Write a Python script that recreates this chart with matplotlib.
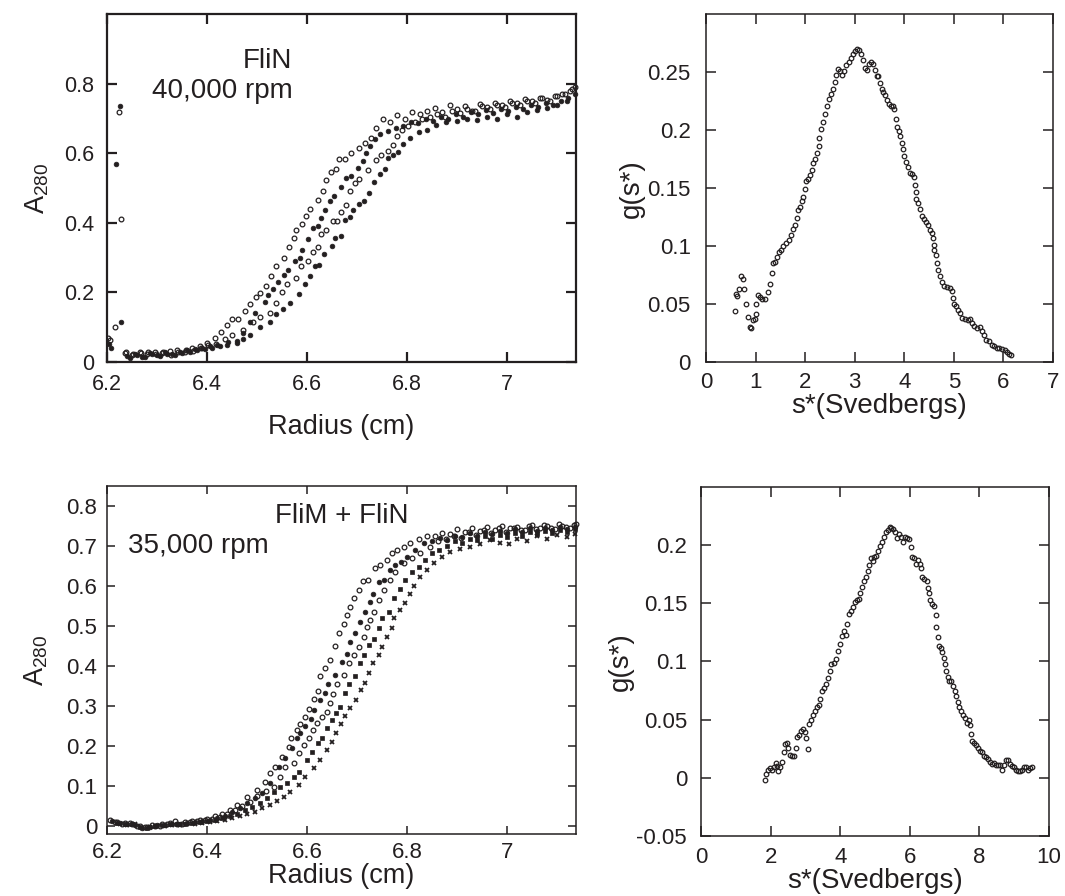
import matplotlib
matplotlib.use('Agg')
import matplotlib.pyplot as plt
from matplotlib.ticker import FixedLocator, FixedFormatter

plt.rcParams['font.family'] = ['Liberation Sans', 'DejaVu Sans']
plt.rcParams['mathtext.fontset'] = 'custom'
plt.rcParams['mathtext.rm'] = 'Liberation Sans'
plt.rcParams['mathtext.it'] = 'Liberation Sans:italic'

INK = '#231f20'

# ---------------- data: FliN, 40,000 rpm (radius cm, A280) ----------------
TL_MENISCUS = [(6.201, 0.068), (6.203, 0.053), (6.205, 0.062), (6.208, 0.040), (6.215, 0.100),
               (6.218, 0.570), (6.223, 0.720), (6.225, 0.737), (6.227, 0.410), (6.228, 0.116)]
TL_OPEN_A = [(6.235, 0.025), (6.25, 0.020), (6.265, 0.028), (6.28, 0.022), (6.295, 0.030), (6.31, 0.025),
             (6.325, 0.032), (6.34, 0.035), (6.355, 0.030), (6.37, 0.040), (6.385, 0.045), (6.40, 0.055),
             (6.415, 0.070), (6.428, 0.085), (6.439, 0.106), (6.449, 0.123), (6.462, 0.125), (6.476, 0.148),
             (6.486, 0.168), (6.497, 0.188), (6.505, 0.198), (6.518, 0.220), (6.528, 0.248), (6.538, 0.275),
             (6.554, 0.300), (6.563, 0.332), (6.573, 0.357), (6.578, 0.379), (6.589, 0.397), (6.598, 0.420),
             (6.606, 0.439), (6.621, 0.467), (6.631, 0.491), (6.638, 0.523), (6.648, 0.546), (6.657, 0.556),
             (6.664, 0.584), (6.676, 0.585), (6.688, 0.601), (6.704, 0.616), (6.716, 0.630), (6.728, 0.645),
             (6.738, 0.674), (6.751, 0.700), (6.765, 0.690), (6.780, 0.710), (6.795, 0.700), (6.810, 0.720),
             (6.825, 0.712), (6.840, 0.722), (6.855, 0.730), (6.870, 0.718), (6.885, 0.740), (6.900, 0.728),
             (6.915, 0.736), (6.930, 0.722), (6.945, 0.742), (6.960, 0.734), (6.975, 0.745), (6.990, 0.738),
             (7.005, 0.750), (7.020, 0.744), (7.035, 0.756), (7.050, 0.750), (7.065, 0.760), (7.080, 0.754),
             (7.095, 0.765), (7.110, 0.770), (7.125, 0.780), (7.135, 0.790)]
TL_FILL_A = [(6.24, 0.018), (6.255, 0.024), (6.27, 0.015), (6.285, 0.026), (6.30, 0.020), (6.315, 0.028),
             (6.33, 0.024), (6.345, 0.030), (6.36, 0.034), (6.375, 0.038), (6.39, 0.040), (6.405, 0.045),
             (6.42, 0.050), (6.442, 0.058), (6.459, 0.061), (6.472, 0.082), (6.486, 0.116), (6.496, 0.142),
             (6.516, 0.172), (6.522, 0.193), (6.532, 0.210), (6.542, 0.230), (6.554, 0.251), (6.562, 0.266),
             (6.575, 0.290), (6.585, 0.300), (6.590, 0.321), (6.602, 0.355), (6.612, 0.384), (6.621, 0.391),
             (6.628, 0.415), (6.636, 0.437), (6.645, 0.462), (6.653, 0.477), (6.668, 0.503), (6.678, 0.529),
             (6.688, 0.536), (6.701, 0.558), (6.711, 0.578), (6.718, 0.600), (6.725, 0.620), (6.735, 0.640),
             (6.745, 0.655), (6.761, 0.664), (6.777, 0.674), (6.792, 0.680), (6.807, 0.690), (6.822, 0.686),
             (6.837, 0.700), (6.852, 0.694), (6.867, 0.706), (6.882, 0.700), (6.897, 0.712), (6.912, 0.706),
             (6.927, 0.718), (6.942, 0.712), (6.957, 0.724), (6.972, 0.716), (6.987, 0.728), (7.002, 0.722),
             (7.017, 0.734), (7.032, 0.728), (7.047, 0.740), (7.062, 0.734), (7.077, 0.746), (7.092, 0.740),
             (7.107, 0.752), (7.122, 0.760), (7.135, 0.770)]
TL_OPEN_B = [(6.238, 0.030), (6.252, 0.022), (6.268, 0.026), (6.282, 0.030), (6.298, 0.024), (6.312, 0.030),
             (6.328, 0.020), (6.342, 0.028), (6.358, 0.034), (6.372, 0.032), (6.388, 0.040), (6.402, 0.048),
             (6.418, 0.052), (6.435, 0.065), (6.450, 0.077), (6.472, 0.092), (6.492, 0.116), (6.505, 0.130),
             (6.525, 0.142), (6.538, 0.169), (6.550, 0.200), (6.559, 0.225), (6.577, 0.242), (6.588, 0.275),
             (6.602, 0.290), (6.612, 0.316), (6.621, 0.332), (6.628, 0.367), (6.638, 0.379), (6.651, 0.406),
             (6.660, 0.406), (6.668, 0.430), (6.678, 0.452), (6.686, 0.491), (6.696, 0.514), (6.704, 0.527),
             (6.721, 0.551), (6.738, 0.580), (6.748, 0.594), (6.761, 0.606), (6.771, 0.625), (6.780, 0.650),
             (6.790, 0.668), (6.802, 0.680), (6.815, 0.690), (6.830, 0.700), (6.845, 0.706), (6.860, 0.712),
             (6.875, 0.705), (6.890, 0.722), (6.905, 0.716), (6.920, 0.728), (6.935, 0.722), (6.950, 0.736),
             (6.965, 0.728), (6.980, 0.740), (6.995, 0.734), (7.010, 0.746), (7.025, 0.740), (7.040, 0.752),
             (7.055, 0.746), (7.070, 0.758), (7.085, 0.752), (7.100, 0.764), (7.115, 0.770), (7.130, 0.785)]
TL_FILL_B = [(6.245, 0.012), (6.26, 0.020), (6.275, 0.014), (6.29, 0.022), (6.305, 0.016), (6.32, 0.024),
             (6.335, 0.020), (6.35, 0.026), (6.365, 0.030), (6.38, 0.034), (6.395, 0.036), (6.41, 0.040),
             (6.425, 0.045), (6.44, 0.048), (6.459, 0.055), (6.472, 0.065), (6.486, 0.077), (6.505, 0.101),
             (6.525, 0.116), (6.538, 0.137), (6.551, 0.153), (6.565, 0.169), (6.583, 0.196), (6.595, 0.225),
             (6.605, 0.246), (6.615, 0.275), (6.623, 0.280), (6.633, 0.312), (6.649, 0.335), (6.656, 0.358),
             (6.668, 0.362), (6.675, 0.409), (6.685, 0.416), (6.691, 0.438), (6.704, 0.454), (6.714, 0.464),
             (6.724, 0.486), (6.734, 0.519), (6.745, 0.541), (6.755, 0.556), (6.761, 0.587), (6.771, 0.594),
             (6.781, 0.604), (6.791, 0.628), (6.805, 0.645), (6.824, 0.662), (6.840, 0.667), (6.857, 0.682),
             (6.877, 0.691), (6.900, 0.693), (6.920, 0.700), (6.940, 0.696), (6.960, 0.706), (6.980, 0.700),
             (7.000, 0.712), (7.020, 0.706), (7.040, 0.718), (7.060, 0.724), (7.080, 0.730), (7.100, 0.740),
             (7.120, 0.750)]

# ---------------- data: g(s*) FliN ----------------
TR_G = [(0.58, 0.044), (0.61, 0.059), (0.63, 0.057), (0.67, 0.063), (0.71, 0.074), (0.75, 0.072), (0.77, 0.063),
        (0.80, 0.050), (0.84, 0.039), (0.88, 0.030), (0.91, 0.029), (0.95, 0.036), (0.98, 0.037), (1.00, 0.041),
        (1.01, 0.050), (1.04, 0.058), (1.08, 0.056), (1.13, 0.054), (1.19, 0.054), (1.25, 0.060), (1.29, 0.067),
        (1.33, 0.077), (1.36, 0.085), (1.40, 0.086), (1.44, 0.091), (1.48, 0.095), (1.52, 0.097), (1.56, 0.100),
        (1.61, 0.103), (1.67, 0.105), (1.72, 0.110), (1.76, 0.115), (1.80, 0.118), (1.83, 0.124), (1.85, 0.131),
        (1.89, 0.134), (1.93, 0.139), (1.96, 0.142), (1.99, 0.149), (2.01, 0.156), (2.05, 0.158), (2.09, 0.161),
        (2.13, 0.166), (2.16, 0.172), (2.20, 0.175), (2.24, 0.180), (2.27, 0.186), (2.29, 0.193), (2.33, 0.201),
        (2.37, 0.207), (2.41, 0.214), (2.44, 0.221), (2.48, 0.227), (2.52, 0.231), (2.56, 0.236), (2.60, 0.242),
        (2.63, 0.248), (2.67, 0.253), (2.71, 0.251), (2.75, 0.248), (2.79, 0.251), (2.83, 0.256), (2.88, 0.259),
        (2.92, 0.262), (2.96, 0.266), (3.00, 0.268), (3.04, 0.270), (3.09, 0.269), (3.13, 0.266), (3.17, 0.261),
        (3.21, 0.254), (3.25, 0.252), (3.29, 0.257), (3.33, 0.259), (3.37, 0.257), (3.41, 0.252), (3.45, 0.247),
        (3.48, 0.247), (3.51, 0.241), (3.55, 0.236), (3.57, 0.233), (3.61, 0.230), (3.65, 0.226), (3.69, 0.223),
        (3.73, 0.221), (3.77, 0.221), (3.80, 0.218), (3.83, 0.210), (3.85, 0.203), (3.89, 0.199), (3.92, 0.195),
        (3.95, 0.189), (3.97, 0.184), (4.00, 0.178), (4.04, 0.173), (4.07, 0.168), (4.11, 0.163), (4.15, 0.162),
        (4.19, 0.160), (4.21, 0.153), (4.23, 0.147), (4.24, 0.141), (4.27, 0.137), (4.31, 0.132), (4.35, 0.126),
        (4.39, 0.123), (4.43, 0.121), (4.47, 0.118), (4.51, 0.114), (4.55, 0.111), (4.57, 0.107), (4.60, 0.101),
        (4.61, 0.097), (4.64, 0.092), (4.67, 0.085), (4.69, 0.079), (4.73, 0.074), (4.77, 0.069), (4.81, 0.066),
        (4.87, 0.065), (4.92, 0.064), (4.96, 0.061), (4.99, 0.055), (5.01, 0.050), (5.05, 0.048), (5.09, 0.045),
        (5.13, 0.042), (5.17, 0.038), (5.23, 0.037), (5.28, 0.036), (5.33, 0.037), (5.37, 0.034), (5.41, 0.031),
        (5.47, 0.029), (5.52, 0.030), (5.57, 0.027), (5.61, 0.023), (5.65, 0.019), (5.71, 0.018), (5.76, 0.015),
        (5.81, 0.014), (5.87, 0.012), (5.92, 0.012), (5.97, 0.011), (6.03, 0.010), (6.08, 0.009), (6.12, 0.007),
        (6.16, 0.006)]

# ---------------- data: FliM + FliN, 35,000 rpm ----------------
BL_OPEN_A = [(6.205, 0.015), (6.22, 0.010), (6.235, 0.008), (6.25, 0.005), (6.265, 0.0), (6.28, -0.002),
             (6.295, 0.0), (6.31, 0.004), (6.325, 0.008), (6.34, 0.006), (6.355, 0.010), (6.37, 0.012),
             (6.385, 0.015), (6.40, 0.018), (6.415, 0.025), (6.43, 0.030), (6.445, 0.040), (6.46, 0.052),
             (6.479, 0.073), (6.499, 0.090), (6.516, 0.111), (6.526, 0.132), (6.536, 0.148), (6.549, 0.173),
             (6.563, 0.198), (6.568, 0.219), (6.579, 0.240), (6.586, 0.254), (6.596, 0.273), (6.603, 0.292),
             (6.613, 0.317), (6.621, 0.338), (6.626, 0.375), (6.636, 0.394), (6.645, 0.415), (6.656, 0.450),
             (6.663, 0.482), (6.673, 0.505), (6.679, 0.528), (6.686, 0.548), (6.694, 0.569), (6.703, 0.590),
             (6.711, 0.613), (6.722, 0.615), (6.736, 0.644), (6.746, 0.653), (6.759, 0.665), (6.769, 0.682),
             (6.779, 0.690), (6.793, 0.698), (6.806, 0.707), (6.823, 0.717), (6.839, 0.725), (6.855, 0.726),
             (6.870, 0.732), (6.885, 0.730), (6.900, 0.742), (6.915, 0.736), (6.930, 0.745), (6.945, 0.738),
             (6.960, 0.748), (6.975, 0.740), (6.990, 0.750), (7.005, 0.744), (7.020, 0.748), (7.035, 0.740),
             (7.050, 0.752), (7.065, 0.744), (7.080, 0.750), (7.095, 0.742), (7.110, 0.750), (7.125, 0.746),
             (7.137, 0.756)]
BL_FILL_A = [(6.21, 0.012), (6.225, 0.008), (6.24, 0.004), (6.255, 0.002), (6.27, -0.004), (6.285, -0.002),
             (6.30, 0.002), (6.315, 0.003), (6.33, 0.005), (6.345, 0.004), (6.36, 0.008), (6.375, 0.010),
             (6.39, 0.012), (6.405, 0.015), (6.42, 0.020), (6.435, 0.025), (6.45, 0.035), (6.465, 0.045),
             (6.48, 0.058), (6.495, 0.070), (6.509, 0.082), (6.526, 0.107), (6.543, 0.148), (6.556, 0.169),
             (6.569, 0.194), (6.579, 0.219), (6.586, 0.232), (6.596, 0.250), (6.607, 0.268), (6.613, 0.290),
             (6.626, 0.315), (6.636, 0.332), (6.641, 0.354), (6.656, 0.378), (6.669, 0.409), (6.679, 0.430),
             (6.686, 0.461), (6.696, 0.483), (6.706, 0.511), (6.716, 0.536), (6.726, 0.561), (6.731, 0.580),
             (6.743, 0.611), (6.753, 0.615), (6.765, 0.640), (6.776, 0.653), (6.788, 0.660), (6.799, 0.673),
             (6.816, 0.690), (6.833, 0.707), (6.850, 0.712), (6.865, 0.720), (6.880, 0.716), (6.895, 0.726),
             (6.910, 0.722), (6.925, 0.732), (6.940, 0.726), (6.955, 0.736), (6.970, 0.730), (6.985, 0.738),
             (7.000, 0.732), (7.015, 0.742), (7.030, 0.736), (7.045, 0.744), (7.060, 0.738), (7.075, 0.746),
             (7.090, 0.740), (7.105, 0.748), (7.120, 0.742), (7.135, 0.748)]
BL_OPEN_B = [(6.215, 0.010), (6.23, 0.006), (6.245, 0.008), (6.26, 0.0), (6.275, -0.003), (6.29, 0.002),
             (6.305, 0.0), (6.32, 0.006), (6.335, 0.012), (6.35, 0.006), (6.365, 0.009), (6.38, 0.012),
             (6.395, 0.014), (6.41, 0.018), (6.425, 0.022), (6.44, 0.030), (6.455, 0.040), (6.47, 0.050),
             (6.485, 0.060), (6.50, 0.075), (6.517, 0.088), (6.533, 0.098), (6.546, 0.123), (6.556, 0.148),
             (6.573, 0.157), (6.583, 0.182), (6.593, 0.202), (6.603, 0.221), (6.611, 0.240), (6.619, 0.258),
             (6.629, 0.273), (6.639, 0.286), (6.646, 0.307), (6.652, 0.330), (6.659, 0.355), (6.673, 0.378),
             (6.683, 0.408), (6.693, 0.428), (6.703, 0.448), (6.713, 0.473), (6.719, 0.498), (6.726, 0.515),
             (6.733, 0.536), (6.743, 0.565), (6.753, 0.590), (6.765, 0.615), (6.776, 0.636), (6.793, 0.657),
             (6.809, 0.669), (6.826, 0.682), (6.846, 0.698), (6.862, 0.712), (6.878, 0.718), (6.893, 0.726),
             (6.908, 0.720), (6.923, 0.735), (6.938, 0.728), (6.953, 0.740), (6.968, 0.732), (6.983, 0.744),
             (6.998, 0.736), (7.013, 0.746), (7.028, 0.740), (7.043, 0.750), (7.058, 0.742), (7.073, 0.752),
             (7.088, 0.746), (7.103, 0.754), (7.118, 0.748), (7.133, 0.752)]
BL_SQUARE = [(6.22, 0.008), (6.235, 0.004), (6.25, 0.006), (6.265, -0.002), (6.28, -0.004), (6.295, 0.0),
             (6.31, 0.002), (6.325, 0.004), (6.34, 0.006), (6.355, 0.005), (6.37, 0.008), (6.385, 0.010),
             (6.40, 0.012), (6.415, 0.015), (6.43, 0.020), (6.445, 0.025), (6.46, 0.030), (6.475, 0.040),
             (6.49, 0.048), (6.505, 0.058), (6.52, 0.070), (6.533, 0.085), (6.546, 0.098), (6.559, 0.107),
             (6.573, 0.123), (6.583, 0.136), (6.599, 0.165), (6.609, 0.186), (6.621, 0.207), (6.629, 0.219),
             (6.639, 0.244), (6.649, 0.265), (6.658, 0.282), (6.666, 0.298), (6.676, 0.333), (6.683, 0.355),
             (6.696, 0.375), (6.705, 0.407), (6.713, 0.428), (6.723, 0.453), (6.733, 0.467), (6.743, 0.494),
             (6.749, 0.519), (6.763, 0.536), (6.773, 0.571), (6.786, 0.592), (6.796, 0.615), (6.809, 0.636),
             (6.823, 0.648), (6.836, 0.665), (6.849, 0.682), (6.864, 0.690), (6.880, 0.700), (6.895, 0.712),
             (6.910, 0.708), (6.925, 0.718), (6.940, 0.714), (6.955, 0.724), (6.970, 0.718), (6.985, 0.728),
             (7.000, 0.722), (7.015, 0.732), (7.030, 0.726), (7.045, 0.736), (7.060, 0.730), (7.075, 0.738),
             (7.090, 0.732), (7.105, 0.740), (7.120, 0.735), (7.135, 0.742)]
BL_CROSS = [(6.225, 0.006), (6.24, 0.002), (6.255, 0.004), (6.27, -0.006), (6.285, -0.002), (6.30, -0.001),
            (6.315, 0.001), (6.33, 0.003), (6.345, 0.002), (6.36, 0.005), (6.375, 0.006), (6.39, 0.008),
            (6.405, 0.010), (6.42, 0.012), (6.435, 0.015), (6.45, 0.020), (6.465, 0.024), (6.48, 0.030),
            (6.495, 0.036), (6.51, 0.044), (6.525, 0.052), (6.54, 0.062), (6.553, 0.072), (6.566, 0.086),
            (6.583, 0.102), (6.596, 0.123), (6.613, 0.144), (6.626, 0.165), (6.639, 0.190), (6.649, 0.211),
            (6.658, 0.232), (6.668, 0.255), (6.676, 0.275), (6.686, 0.294), (6.698, 0.315), (6.707, 0.340),
            (6.716, 0.358), (6.723, 0.382), (6.731, 0.407), (6.743, 0.428), (6.749, 0.448), (6.759, 0.473),
            (6.769, 0.494), (6.774, 0.519), (6.786, 0.540), (6.796, 0.558), (6.806, 0.580), (6.813, 0.600),
            (6.825, 0.623), (6.840, 0.640), (6.853, 0.657), (6.870, 0.672), (6.886, 0.686), (6.906, 0.692),
            (6.926, 0.698), (6.946, 0.704), (6.966, 0.715), (6.986, 0.708), (7.003, 0.705), (7.020, 0.718),
            (7.040, 0.712), (7.060, 0.724), (7.080, 0.718), (7.100, 0.728), (7.120, 0.722), (7.135, 0.730)]

# ---------------- data: g(s*) FliM + FliN ----------------
BR_G = [(1.84, -0.002), (1.88, 0.003), (1.92, 0.007), (1.97, 0.008), (2.03, 0.007), (2.09, 0.009), (2.15, 0.013),
        (2.18, 0.010), (2.22, 0.006), (2.28, 0.009), (2.34, 0.014), (2.38, 0.022), (2.41, 0.029), (2.47, 0.030),
        (2.51, 0.026), (2.55, 0.020), (2.61, 0.019), (2.67, 0.019), (2.72, 0.026), (2.76, 0.035), (2.82, 0.037),
        (2.87, 0.040), (2.93, 0.042), (2.99, 0.039), (3.03, 0.034), (3.07, 0.025), (3.10, 0.046), (3.16, 0.050),
        (3.22, 0.054), (3.28, 0.057), (3.33, 0.061), (3.39, 0.063), (3.43, 0.068), (3.49, 0.075), (3.54, 0.077),
        (3.60, 0.081), (3.66, 0.086), (3.70, 0.092), (3.75, 0.098), (3.81, 0.099), (3.87, 0.102), (3.93, 0.109),
        (3.98, 0.115), (4.04, 0.122), (4.10, 0.126), (4.16, 0.123), (4.20, 0.132), (4.25, 0.141), (4.31, 0.143),
        (4.37, 0.147), (4.43, 0.151), (4.48, 0.153), (4.54, 0.154), (4.58, 0.159), (4.62, 0.164), (4.68, 0.169),
        (4.73, 0.173), (4.79, 0.178), (4.83, 0.183), (4.89, 0.189), (4.94, 0.186), (4.98, 0.190), (5.04, 0.191),
        (5.10, 0.195), (5.13, 0.199), (5.19, 0.203), (5.25, 0.207), (5.31, 0.211), (5.36, 0.213), (5.42, 0.216),
        (5.46, 0.215), (5.52, 0.214), (5.57, 0.211), (5.63, 0.206), (5.69, 0.210), (5.75, 0.207), (5.80, 0.203),
        (5.86, 0.207), (5.92, 0.206), (5.98, 0.205), (6.02, 0.198), (6.05, 0.190), (6.11, 0.189), (6.17, 0.184),
        (6.23, 0.187), (6.28, 0.184), (6.32, 0.180), (6.36, 0.173), (6.42, 0.171), (6.48, 0.169), (6.51, 0.163),
        (6.55, 0.159), (6.59, 0.153), (6.65, 0.149), (6.70, 0.148), (6.74, 0.140), (6.76, 0.130), (6.80, 0.121),
        (6.84, 0.113), (6.90, 0.112), (6.93, 0.108), (6.97, 0.103), (7.01, 0.098), (7.05, 0.092), (7.09, 0.087),
        (7.13, 0.083), (7.18, 0.083), (7.24, 0.079), (7.30, 0.075), (7.34, 0.070), (7.38, 0.065), (7.41, 0.061),
        (7.47, 0.057), (7.53, 0.054), (7.59, 0.051), (7.64, 0.047), (7.70, 0.050), (7.72, 0.045), (7.76, 0.038),
        (7.80, 0.032), (7.85, 0.030), (7.91, 0.028), (7.97, 0.026), (8.03, 0.023), (8.08, 0.022), (8.14, 0.019),
        (8.20, 0.018), (8.25, 0.016), (8.31, 0.014), (8.37, 0.012), (8.43, 0.013), (8.49, 0.011), (8.54, 0.011),
        (8.60, 0.011), (8.64, 0.007), (8.70, 0.011), (8.75, 0.015), (8.81, 0.015), (8.87, 0.012), (8.93, 0.010),
        (8.98, 0.009), (9.04, 0.007), (9.10, 0.006), (9.16, 0.006), (9.21, 0.007), (9.27, 0.009), (9.33, 0.009),
        (9.39, 0.007), (9.44, 0.008), (9.50, 0.009)]

# tick labels
RAD_TICKS = [6.2, 6.4, 6.6, 6.8, 7.0]
RAD_LABELS = ['6.2', '6.4', '6.6', '6.8', '7']
TL_YTICKS = [0, 0.2, 0.4, 0.6, 0.8]
TL_YLABELS = ['0', '0.2', '0.4', '0.6', '0.8']
TR_XTICKS = [0, 1, 2, 3, 4, 5, 6, 7]
TR_XLABELS = ['0', '1', '2', '3', '4', '5', '6', '7']
TR_YTICKS = [0, 0.05, 0.1, 0.15, 0.2, 0.25]
TR_YLABELS = ['0', '0.05', '0.1', '0.15', '0.2', '0.25']
BL_YTICKS = [0, 0.1, 0.2, 0.3, 0.4, 0.5, 0.6, 0.7, 0.8]
BL_YLABELS = ['0', '0.1', '0.2', '0.3', '0.4', '0.5', '0.6', '0.7', '0.8']
BR_XTICKS = [0, 2, 4, 6, 8, 10]
BR_XLABELS = ['0', '2', '4', '6', '8', '10']
BR_YTICKS = [-0.05, 0, 0.05, 0.1, 0.15, 0.2]
BR_YLABELS = ['-0.05', '0', '0.05', '0.1', '0.15', '0.2']


def xy(pairs):
    return [p[0] for p in pairs], [p[1] for p in pairs]


def style(ax, lw, tlen, lsize, padx, pady, xt, xl, yt, yl):
    for s in ax.spines.values():
        s.set_linewidth(lw)
        s.set_color(INK)
    ax.xaxis.set_major_locator(FixedLocator(xt))
    ax.xaxis.set_major_formatter(FixedFormatter(xl))
    ax.yaxis.set_major_locator(FixedLocator(yt))
    ax.yaxis.set_major_formatter(FixedFormatter(yl))
    ax.tick_params(direction='in', top=True, right=True, length=tlen, width=lw,
                   color=INK, labelcolor=INK, labelsize=lsize)
    ax.tick_params(axis='x', pad=padx)
    ax.tick_params(axis='y', pad=pady)


def open_pts(ax, pairs, ms=3.4):
    x, y = xy(pairs)
    ax.plot(x, y, linestyle='none', marker='o', mfc='none', mec=INK, ms=ms, mew=0.9, clip_on=False)


def fill_pts(ax, pairs, marker='o', ms=3.4):
    x, y = xy(pairs)
    ax.plot(x, y, linestyle='none', marker=marker, mfc=INK, mec=INK, ms=ms, mew=0.5, clip_on=False)


fig = plt.figure(figsize=(10.65, 8.96), dpi=100)

# ---- top-left ----
ax1 = fig.add_axes([0.1005, 0.596, 0.4404, 0.388])
open_pts(ax1, TL_OPEN_A)
fill_pts(ax1, TL_FILL_A)
open_pts(ax1, TL_OPEN_B)
fill_pts(ax1, TL_FILL_B)
mx, my = xy(TL_MENISCUS)
ax1.plot(mx[::2], my[::2], linestyle='none', marker='o', mfc='none', mec=INK, ms=3.4, mew=0.9)
ax1.plot(mx[1::2], my[1::2], linestyle='none', marker='o', mfc=INK, mec=INK, ms=3.4, mew=0.5)
ax1.set_xlim(6.2, 7.138)
ax1.set_ylim(0, 1.0)
style(ax1, 1.6, 7, 15.5, 9, 9, RAD_TICKS, RAD_LABELS, TL_YTICKS, TL_YLABELS)
ax1.set_xlabel('Radius (cm)', fontsize=19.5, color=INK, labelpad=13)
ax1.set_ylabel(r'$\mathregular{A_{280}}$', fontsize=19.5, color=INK, labelpad=10)
ax1.text(6.52, 0.845, 'FliN', fontsize=20, color=INK, ha='center', va='baseline')
ax1.text(6.29, 0.759, '40,000 rpm', fontsize=20, color=INK, ha='left', va='baseline')

# ---- top-right ----
ax2 = fig.add_axes([0.6629, 0.596, 0.3258, 0.388])
open_pts(ax2, TR_G, ms=3.3)
ax2.set_xlim(0, 7)
ax2.set_ylim(0, 0.3)
style(ax2, 1.1, 7, 16, 7, 11, TR_XTICKS, TR_XLABELS, TR_YTICKS, TR_YLABELS)
ax2.set_xlabel('s*(Svedbergs)', fontsize=20, color=INK, labelpad=0)
ax2.set_ylabel('g(s*)', fontsize=20, color=INK, labelpad=2)

# ---- bottom-left ----
ax3 = fig.add_axes([0.1005, 0.0692, 0.4404, 0.3884])
open_pts(ax3, BL_OPEN_A)
fill_pts(ax3, BL_FILL_A)
open_pts(ax3, BL_OPEN_B)
fill_pts(ax3, BL_SQUARE, marker='s', ms=3.2)
x5, y5 = xy(BL_CROSS)
ax3.plot(x5, y5, linestyle='none', marker='x', mec=INK, ms=3.2, mew=1.3, clip_on=False)
ax3.set_xlim(6.2, 7.138)
ax3.set_ylim(-0.02, 0.85)
style(ax3, 1.1, 6, 16, 6, 7, RAD_TICKS, RAD_LABELS, BL_YTICKS, BL_YLABELS)
ax3.set_xlabel('Radius (cm)', fontsize=19.5, color=INK, labelpad=0)
ax3.set_ylabel(r'$\mathregular{A_{280}}$', fontsize=19.5, color=INK, labelpad=12)
ax3.text(6.536, 0.757, 'FliM + FliN', fontsize=20, color=INK, ha='left', va='baseline')
ax3.text(6.242, 0.683, '35,000 rpm', fontsize=20, color=INK, ha='left', va='baseline')

# ---- bottom-right ----
ax4 = fig.add_axes([0.6582, 0.0670, 0.3268, 0.3895])
open_pts(ax4, BR_G, ms=3.3)
ax4.set_xlim(0, 10)
ax4.set_ylim(-0.05, 0.25)
style(ax4, 1.1, 7, 16, 8, 10, BR_XTICKS, BR_XLABELS, BR_YTICKS, BR_YLABELS)
ax4.set_xlabel('s*(Svedbergs)', fontsize=20, color=INK, labelpad=0)
ax4.set_ylabel('g(s*)', fontsize=20, color=INK, labelpad=2)

fig.savefig('out.png', dpi=100)
